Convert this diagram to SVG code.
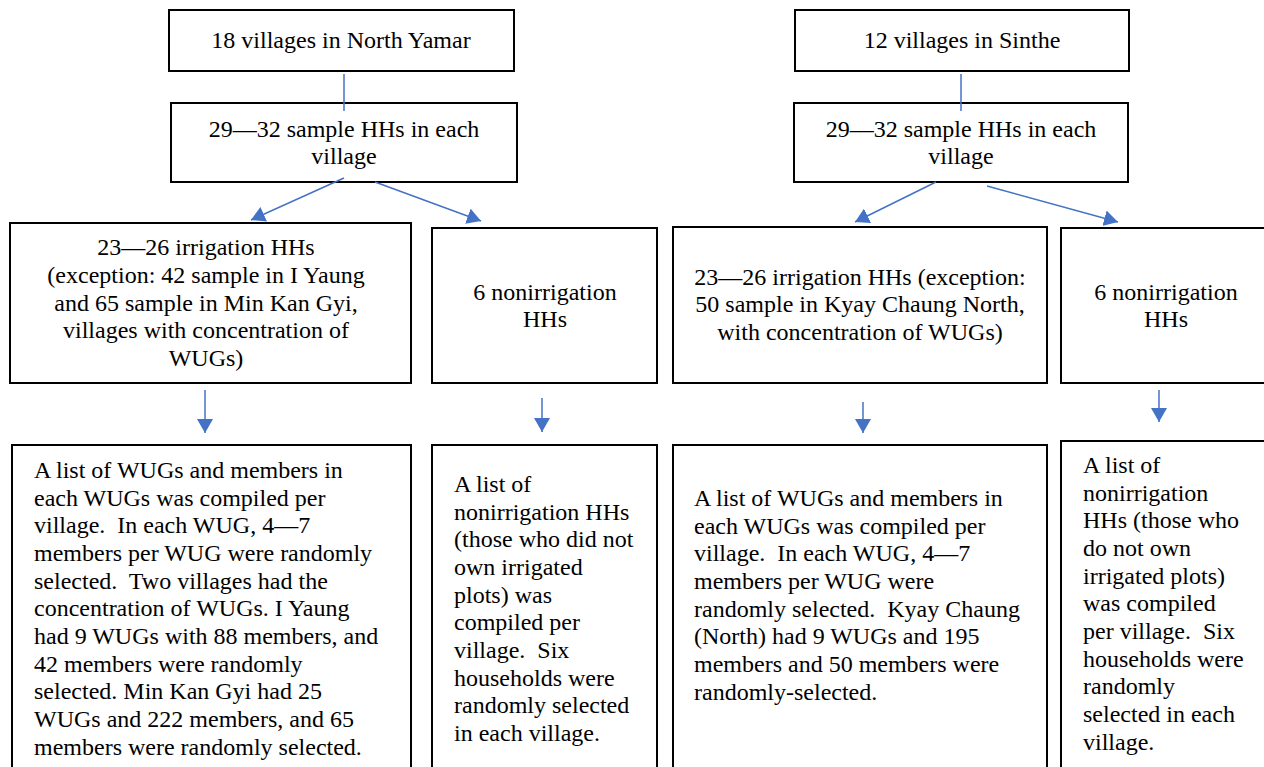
<svg xmlns="http://www.w3.org/2000/svg" width="1264" height="767" viewBox="0 0 1264 767" font-family="Liberation Serif, Times New Roman, serif">
<defs>
<marker id="ah" markerUnits="userSpaceOnUse" markerWidth="16" markerHeight="16" refX="14" refY="8" orient="auto">
<path d="M0,0 L14,8 L0,16 z" fill="#4472C4"/>
</marker>
</defs>
<style>
rect.b{fill:#fff;stroke:#000;stroke-width:2}
text{font-size:24px;fill:#000}
text.c{text-anchor:middle}
line.k{stroke:#4472C4;stroke-width:1.5}
line.a{stroke:#4472C4;stroke-width:1.5;marker-end:url(#ah)}
</style>
<rect width="1264" height="767" fill="#fff"/>
<g id="n1"><rect class="b" x="169" y="10" width="345" height="61"/><text class="c" x="341" y="48">18 villages in North Yamar</text></g>
<g id="n2"><rect class="b" x="171" y="103" width="346" height="79"/><text class="c" x="344" y="137">29—32 sample HHs in each</text><text class="c" x="344" y="164">village</text></g>
<g id="n3"><rect class="b" x="10" y="223" width="401" height="160"/>
<text class="c" x="206" y="255">23—26 irrigation HHs</text>
<text class="c" x="206" y="283">(exception: 42 sample in I Yaung</text>
<text class="c" x="206" y="311">and 65 sample in Min Kan Gyi,</text>
<text class="c" x="206" y="338">villages with concentration of</text>
<text class="c" x="206" y="366">WUGs)</text></g>
<g id="n4"><rect class="b" x="432" y="228" width="225" height="155"/><text class="c" x="545" y="300">6 nonirrigation</text><text class="c" x="545" y="327">HHs</text></g>
<g id="n5"><rect class="b" x="12" y="445" width="399" height="340"/>
<text x="34" y="478">A list of WUGs and members in</text>
<text x="34" y="505.7">each WUGs was compiled per</text>
<text x="34" y="533.3" xml:space="preserve">village.  In each WUG, 4—7</text>
<text x="34" y="561">members per WUG were randomly</text>
<text x="34" y="588.7" xml:space="preserve">selected.  Two villages had the</text>
<text x="34" y="616.3">concentration of WUGs. I Yaung</text>
<text x="34" y="644">had 9 WUGs with 88 members, and</text>
<text x="34" y="671.7">42 members were randomly</text>
<text x="34" y="699.3">selected. Min Kan Gyi had 25</text>
<text x="34" y="727">WUGs and 222 members, and 65</text>
<text x="34" y="754.7">members were randomly selected.</text></g>
<g id="n6"><rect class="b" x="432" y="445" width="225" height="340"/>
<text x="454" y="492">A list of</text>
<text x="454" y="519.7">nonirrigation HHs</text>
<text x="454" y="547.3">(those who did not</text>
<text x="454" y="575">own irrigated</text>
<text x="454" y="602.7">plots) was</text>
<text x="454" y="630.3">compiled per</text>
<text x="454" y="658" xml:space="preserve">village.  Six</text>
<text x="454" y="685.7">households were</text>
<text x="454" y="713.3">randomly selected</text>
<text x="454" y="741">in each village.</text></g>
<g id="n7"><rect class="b" x="795" y="10" width="334" height="61"/><text class="c" x="962" y="48">12 villages in Sinthe</text></g>
<g id="n8"><rect class="b" x="794" y="103" width="334" height="79"/><text class="c" x="961" y="137">29—32 sample HHs in each</text><text class="c" x="961" y="164">village</text></g>
<g id="n9"><rect class="b" x="673" y="227" width="374" height="156"/>
<text class="c" x="860" y="285">23—26 irrigation HHs (exception:</text>
<text class="c" x="860" y="312">50 sample in Kyay Chaung North,</text>
<text class="c" x="860" y="340">with concentration of WUGs)</text></g>
<g id="n10"><rect class="b" x="1061" y="228" width="214" height="155"/><text class="c" x="1166" y="300">6 nonirrigation</text><text class="c" x="1166" y="327">HHs</text></g>
<g id="n11"><rect class="b" x="673" y="445" width="374" height="340"/>
<text x="694" y="506">A list of WUGs and members in</text>
<text x="694" y="533.7">each WUGs was compiled per</text>
<text x="694" y="561.3" xml:space="preserve">village.  In each WUG, 4—7</text>
<text x="694" y="589">members per WUG were</text>
<text x="694" y="616.7" xml:space="preserve">randomly selected.  Kyay Chaung</text>
<text x="694" y="644.3">(North) had 9 WUGs and 195</text>
<text x="694" y="672">members and 50 members were</text>
<text x="694" y="699.7">randomly-selected.</text></g>
<g id="n12"><rect class="b" x="1061" y="441" width="214" height="340"/>
<text x="1083" y="473">A list of</text>
<text x="1083" y="500.7">nonirrigation</text>
<text x="1083" y="528.3">HHs (those who</text>
<text x="1083" y="556">do not own</text>
<text x="1083" y="583.7">irrigated plots)</text>
<text x="1083" y="611.3">was compiled</text>
<text x="1083" y="639" xml:space="preserve">per village.  Six</text>
<text x="1083" y="666.7">households were</text>
<text x="1083" y="694.3">randomly</text>
<text x="1083" y="722">selected in each</text>
<text x="1083" y="749.7">village.</text></g>
<g id="connectors">
<line class="k" x1="344" y1="74" x2="344" y2="111"/>
<line class="a" x1="344" y1="178" x2="251" y2="220"/>
<line class="a" x1="375" y1="182" x2="481" y2="221"/>
<line class="a" x1="205" y1="390" x2="205" y2="433"/>
<line class="a" x1="542" y1="398" x2="542" y2="432"/>
<line class="k" x1="961" y1="74" x2="961" y2="111"/>
<line class="a" x1="936" y1="182" x2="855" y2="222"/>
<line class="a" x1="987" y1="186" x2="1118" y2="222"/>
<line class="a" x1="863" y1="402" x2="863" y2="433"/>
<line class="a" x1="1159" y1="390" x2="1159" y2="422"/>
</g>
</svg>
